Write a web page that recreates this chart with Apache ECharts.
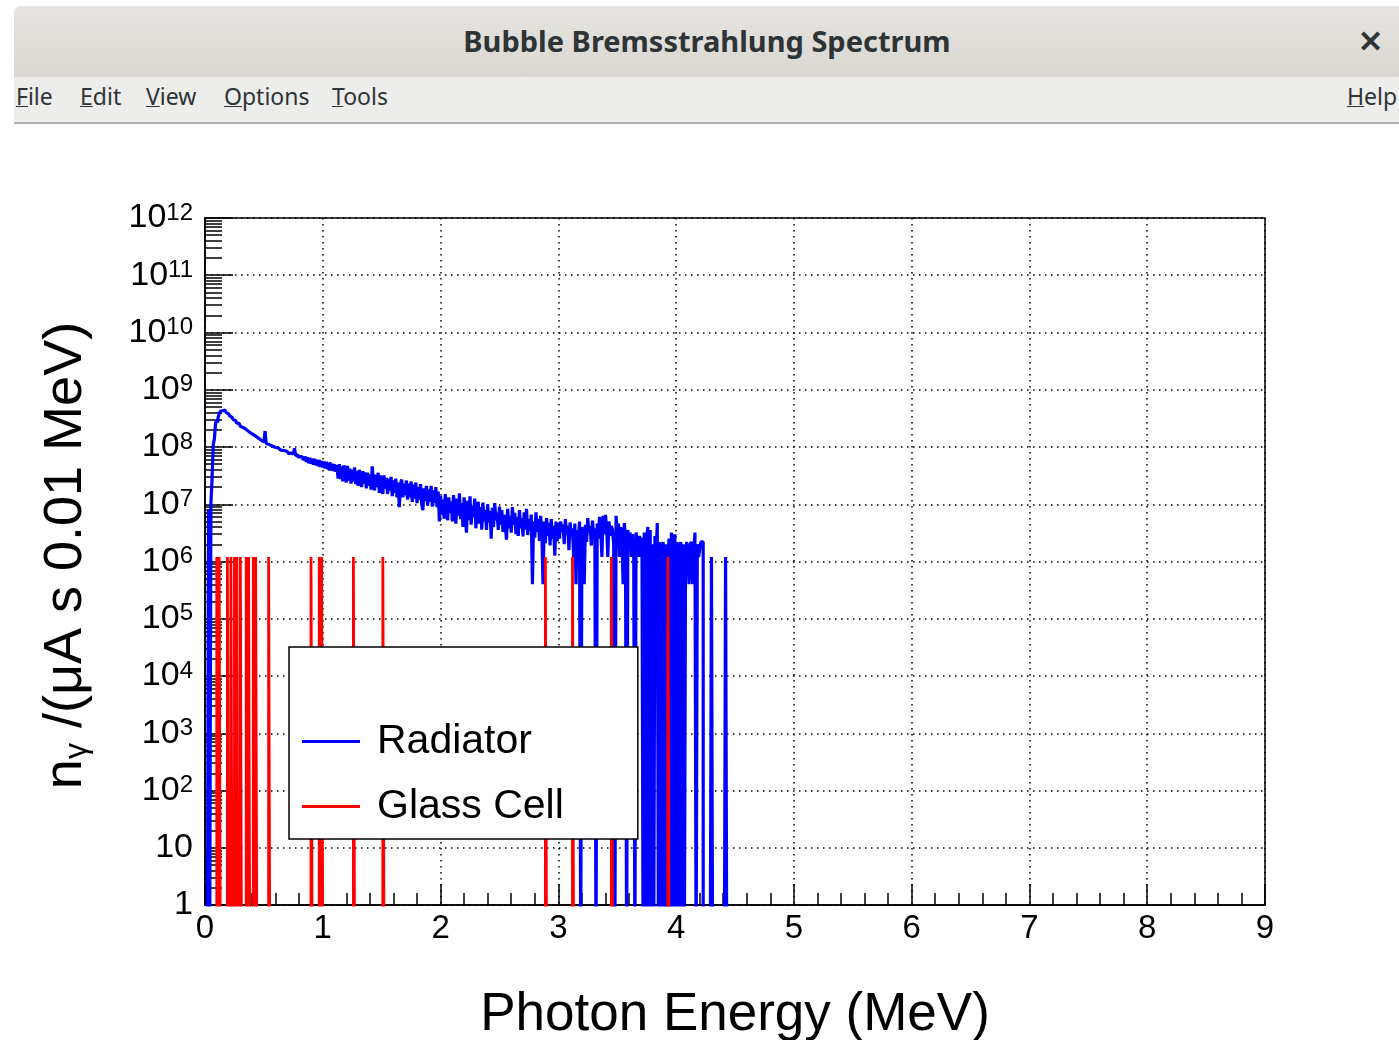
<!DOCTYPE html>
<html>
<head>
<meta charset="utf-8">
<title>Bubble Bremsstrahlung Spectrum</title>
<script src="https://cdn.jsdelivr.net/npm/echarts@6/dist/echarts.min.js"></script>
<style>
	html, body {
		margin: 0;
		padding: 0;
		width: 1399px;
		height: 1040px;
		overflow: hidden;
		background: #fff;
	}
	#chart {
		position: absolute;
		left: 0;
		top: 0;
		width: 1399px;
		height: 1040px;
	}
	.titlebar {
		position: absolute;
		left: 14px;
		top: 6px;
		width: 1400px;
		height: 71px;
		background: linear-gradient(#e6e4e0, #dad7d2);
		border-radius: 6px 0 0 0;
		font-family: "Noto Sans", sans-serif;
		z-index: 5;
	}
	.titlebar .caption {
		position: absolute;
		left: 0;
		width: 1386px;
		top: 15px;
		text-align: center;
		font-size: 29px;
		font-weight: bold;
		color: #2e3436;
	}
	.titlebar .close {
		position: absolute;
		left: 1344px;
		top: 14px;
		font-size: 30px;
		font-weight: bold;
		color: #2e3436;
	}
	.menubar {
		position: absolute;
		left: 14px;
		top: 77px;
		width: 1400px;
		height: 45px;
		background: #ededeb;
		border-bottom: 2px solid #b2b0ac;
		font-family: "Noto Sans", sans-serif;
		font-size: 23px;
		color: #2e3436;
		z-index: 5;
	}
	.menubar span {
		position: absolute;
		top: 3px;
	}
	.menubar u {
		text-decoration-thickness: 1px;
	}
</style>
</head>
<body>
<div class="titlebar">
	<div class="caption">Bubble Bremsstrahlung Spectrum</div>
	<div class="close">✕</div>
</div>
<div class="menubar">
	<span style="left:2px"><u>F</u>ile</span>
	<span style="left:66px"><u>E</u>dit</span>
	<span style="left:132px"><u>V</u>iew</span>
	<span style="left:210px"><u>O</u>ptions</span>
	<span style="left:318px"><u>T</u>ools</span>
	<span style="left:1333px"><u>H</u>elp</span>
</div>
<div id="chart"></div>
<script>
// histogram binning (MeV)
var binWidth = 0.01;

// Radiator: counts per 0.01 MeV bin, starting at 0 MeV (0 = empty bin)
var radiatorCounts = [
	0, 0, 0, 8e6, 0, 1.0e7, 2.8e7, 1.1e8, 1.4e8, 2.7e8,
	2.8e8, 3.2e8, 3.8e8, 4.2e8, 4.3e8, 4.5e8, 4.4e8, 4.2e8, 4.0e8, 3.8e8,
	3.7e8, 3.5e8, 3.3e8, 3.1e8, 3.0e8, 2.9e8, 2.8e8, 2.6e8, 2.6e8, 2.5e8,
	2.3e8, 2.2e8, 2.1e8, 2.1e8, 2.0e8, 1.95e8, 1.9e8, 1.8e8, 1.8e8, 1.7e8,
	1.66e8, 1.6e8, 1.6e8, 1.5e8, 1.5e8, 1.4e8, 1.4e8, 1.3e8, 1.26e8, 1.23e8,
	1.2e8, 1.9e8, 1.15e8, 1.12e8, 1.1e8, 1.07e8, 1.05e8, 1.02e8, 1.0e8, 9.8e7,
	9.5e7, 9.7e7, 9.1e7, 8.9e7, 9.2e7, 8.7e7, 8.4e7, 8.6e7, 8.1e7, 8.3e7,
	8.0e7, 7.6e7, 7.9e7, 7.3e7, 7.5e7, 7.1e7, 9.5e7, 7.0e7, 7.3e7, 6.6e7,
	6.8e7, 6.4e7, 6.7e7, 6.0e7, 6.3e7, 6.9e7, 5.5e7, 6.6e7, 5.2e7, 6.5e7,
	5.1e7, 6.3e7, 4.9e7, 6.2e7, 4.8e7, 6.0e7, 4.6e7, 5.9e7, 4.5e7, 5.7e7,
	4.4e7, 5.6e7, 4.2e7, 5.5e7, 4.3e7, 4.0e7, 5.4e7, 3.9e7, 5.1e7, 3.8e7,
	5.0e7, 3.7e7, 4.8e7, 2.8e7, 5.0e7, 2.75e7, 4.6e7, 2.5e7, 4.8e7, 3.2e7,
	2.4e7, 4.7e7, 2.6e7, 4.2e7, 2.3e7, 4.0e7, 2.5e7, 4.4e7, 2.24e7, 3.8e7,
	2.1e7, 4.0e7, 2.75e7, 2.0e7, 3.8e7, 2.3e7, 3.6e7, 1.9e7, 3.55e7, 2.1e7,
	3.3e7, 1.8e7, 4.6e7, 2.4e7, 1.74e7, 3.3e7, 2.0e7, 3.55e7, 1.58e7, 3.2e7,
	1.9e7, 1.51e7, 3.2e7, 1.86e7, 2.9e7, 1.51e7, 2.8e7, 1.74e7, 3.0e7, 1.38e7,
	2.6e7, 1.58e7, 2.8e7, 1.32e7, 2.4e7, 8.9e6, 2.3e7, 2.7e7, 1.32e7, 2.3e7,
	1.45e7, 2.6e7, 1.2e7, 2.3e7, 1.32e7, 2.5e7, 1.1e7, 2.2e7, 1.26e7, 2.4e7,
	1.05e7, 2.0e7, 1.2e7, 2.24e7, 1.0e7, 7.9e6, 1.9e7, 1.15e7, 2.1e7, 9.5e6,
	1.82e7, 1.1e7, 2.1e7, 9.1e6, 1.74e7, 1.05e7, 2.0e7, 8.9e6, 1.66e7, 5.0e6,
	1.41e7, 6.6e6, 1.2e7, 5.6e6, 1.51e7, 7.9e6, 5.25e6, 1.32e7, 7.1e6, 1.12e7,
	5.0e6, 1.45e7, 7.6e6, 4.6e6, 1.26e7, 6.3e6, 1.55e7, 5.5e6, 1.05e7, 4.0e6,
	1.32e7, 6.9e6, 3.2e6, 1.15e7, 5.25e6, 1.38e7, 4.4e6, 9.5e6, 6.0e6, 1.26e7,
	3.8e6, 8.3e6, 1.1e7, 4.6e6, 8.9e6, 3.6e6, 1.07e7, 5.0e6, 7.9e6, 3.55e6,
	1.0e7, 4.8e6, 7.6e6, 2.5e6, 8.7e6, 4.0e6, 1.05e7, 5.25e6, 7.2e6, 3.55e6,
	9.1e6, 4.4e6, 7.9e6, 3.3e6, 6.6e6, 4.2e6, 2.4e6, 8.3e6, 3.8e6, 6.3e6,
	3.2e6, 8.9e6, 4.4e6, 7.1e6, 3.0e6, 6.0e6, 2.8e6, 7.9e6, 3.8e6, 5.75e6,
	2.75e6, 7.2e6, 3.6e6, 8.3e6, 2.9e6, 5.5e6, 3.55e6, 6.6e6, 4.0e5, 5.0e6,
	2.6e6, 7.2e6, 3.3e6, 5.5e6, 2.3e6, 6.3e6, 3.2e6, 4.0e5, 5.0e6, 2.1e6,
	5.75e6, 2.8e6, 4.8e6, 1.9e6, 5.5e6, 2.5e6, 4.2e6, 1.26e6, 5.0e6, 2.24e6,
	4.8e6, 2.5e6, 5.0e6, 3.3e6, 4.4e6, 2.0e6, 5.5e6, 3.0e6, 4.2e6, 1.58e6,
	4.8e6, 2.8e6, 3.8e6, 1.2e6, 4.6e6, 4.0e5, 3.55e6, 2.4e6, 5.0e6, 0,
	4.0e6, 2.6e6, 4.0e5, 4.4e6, 2.2e6, 5.75e6, 3.2e6, 4.2e6, 1.9e6, 5.2e6,
	2.9e6, 3.8e6, 0, 4.6e6, 2.5e6, 6.0e6, 3.55e6, 1.2e6, 6.3e6, 3.0e6,
	6.5e6, 4.0e6, 1.2e6, 5.0e6, 2.8e6, 4.2e6, 3.55e6, 2.0e6, 0, 6.3e6,
	3.2e6, 4.6e6, 1.2e6, 4.0e6, 2.5e6, 4.0e5, 4.7e6, 2.8e6, 0, 3.55e6,
	2.0e6, 3.2e6, 1.2e6, 3.0e6, 1.58e6, 0, 3.2e6, 2.3e6, 1.2e6, 2.8e6,
	1.2e6, 2.6e6, 0, 3.2e6, 0, 2.5e6, 4.0e6, 0, 3.55e6, 0,
	2.0e6, 0, 2.8e6, 1.2e6, 4.7e6, 0, 2.2e6, 0, 1.58e6, 2.2e6,
	0, 2.0e6, 0, 1.2e6, 2.5e6, 0, 3.2e6, 2.0e6, 0, 3.0e6,
	0, 2.2e6, 0, 1.58e6, 2.2e6, 0, 2.0e6, 0, 1.2e6, 2.2e6,
	1.26e6, 4.0e5, 2.0e6, 2.2e6, 4.0e5, 1.58e6, 3.2e6, 0, 2.0e6, 1.2e6,
	1.58e6, 2.2e6, 2.2e6, 0, 0, 0, 0, 0, 0, 0,
	1.2e6, 0, 0, 0, 0, 0, 0, 0, 0, 0,
	0, 0, 1.2e6, 0, 0
];

// Glass Cell: only a few filled bins (low edge in MeV, content)
var glassEnergy = [0.10, 0.12, 0.19, 0.22, 0.25, 0.27, 0.30, 0.35, 0.37, 0.41, 0.43,
	0.54, 0.90, 0.97, 0.99, 1.26, 1.51, 2.89, 3.12, 3.45, 3.93];
var glassCounts = [1.2e6, 1.2e6, 1.2e6, 1.2e6, 1.2e6, 1.2e6, 1.2e6, 1.2e6, 1.2e6, 1.2e6, 1.2e6,
	1.2e6, 1.2e6, 1.2e6, 1.2e6, 1.2e6, 1.2e6, 1.2e6, 1.2e6, 1.2e6, 1.2e6];

var seriesNames = ['Radiator', 'Glass Cell'];
var seriesColors = ['#0000ff', '#ff0000'];

// axis ticks
var yMajorTicks = [1, 1e1, 1e2, 1e3, 1e4, 1e5, 1e6, 1e7, 1e8, 1e9, 1e10, 1e11, 1e12];
var yMinorTicks = [];
for (var n = 0; n < 12; n++) {
	for (var k = 2; k <= 9; k++) {
		yMinorTicks.push(k * Math.pow(10, n));
	}
}

var FLOOR = 0.1; // empty bins are drawn below the frame (log axis starts at 1), clipped like ROOT does
var FONT = "'Liberation Sans', Arial, sans-serif";

// step outline of a histogram with contiguous bins
function outlineFromBins(counts){
	var pts = [[0, FLOOR]];
	for (var i = 0; i < counts.length; i++) {
		var lo = +(i * binWidth).toFixed(2);
		var hi = +((i + 1) * binWidth).toFixed(2);
		var v = counts[i] > 0 ? counts[i] : FLOOR;
		pts.push([lo, v]);
		pts.push([hi, v]);
	}
	pts.push([+(counts.length * binWidth).toFixed(2), FLOOR]);
	return pts;
}

// step outline of isolated filled bins
function outlineFromHits(edges, counts){
	var pts = [];
	for (var i = 0; i < edges.length; i++) {
		var lo = edges[i];
		var hi = +(edges[i] + binWidth).toFixed(2);
		pts.push([lo, FLOOR], [lo, counts[i]], [hi, counts[i]], [hi, FLOOR]);
	}
	return pts;
}

function yLabel(value){
	var e = Math.round(Math.log10(value));
	if (e === 0) return '1';
	if (e === 1) return '10';
	return '{b|10}{s|' + e + '}';
}

var chartInstance = echarts.init(document.getElementById('chart'), null, {renderer: 'canvas'});

var option = {
	animation: false,
	backgroundColor: '#fff',
	textStyle: {fontFamily: FONT},
	grid: {
		left: 205,
		right: 134,
		top: 218,
		bottom: 135,
		show: true,
		borderColor: '#000',
		borderWidth: 1.5,
		backgroundColor: 'transparent',
		containLabel: false,
		outerBoundsMode: 'none'
	},
	legend: {
		data: seriesNames,
		orient: 'vertical',
		left: 289,
		top: 647,
		icon: 'rect',
		itemWidth: 58,
		itemHeight: 3,
		itemGap: 24,
		padding: [74, 74, 12, 13],
		backgroundColor: '#fff',
		borderColor: '#000',
		borderWidth: 1.5,
		textStyle: {
			fontFamily: FONT,
			fontSize: 41,
			lineHeight: 40,
			color: '#000',
			padding: [0, 0, 0, 12]
		}
	},
	xAxis: {
		type: 'value',
		min: 0,
		max: 9,
		interval: 1,
		name: 'Photon Energy (MeV)',
		nameLocation: 'middle',
		nameGap: 84,
		nameTextStyle: {fontFamily: FONT, fontSize: 53, color: '#000'},
		axisLine: {lineStyle: {color: '#000', width: 1.5}},
		axisTick: {inside: true, length: 21, lineStyle: {color: '#000', width: 1.5}},
		minorTick: {show: true, splitNumber: 5, length: 12, lineStyle: {color: '#000', width: 1.5}},
		axisLabel: {fontFamily: FONT, fontSize: 33, color: '#000', margin: 7},
		splitLine: {show: true, lineStyle: {color: '#000', width: 1.5, type: [1.5, 4.5]}}
	},
	yAxis: [
		{
			type: 'log',
			logBase: 10,
			min: 1,
			max: 1e12,
			name: '{n|n}{g|γ}{r| /(μA s 0.01 MeV)}',
			nameLocation: 'middle',
			nameRotate: 90,
			nameGap: 112,
			nameTextStyle: {
				fontFamily: FONT,
				fontSize: 54,
				color: '#000',
				padding: [0, 0, 0, 12],
				rich: {
					n: {fontFamily: FONT, fontSize: 54, lineHeight: 60, verticalAlign: 'bottom', color: '#000'},
					g: {fontFamily: FONT, fontSize: 32, lineHeight: 60, verticalAlign: 'bottom', color: '#000'},
					r: {fontFamily: FONT, fontSize: 54, lineHeight: 60, verticalAlign: 'bottom', color: '#000'}
				}
			},
			axisLine: {lineStyle: {color: '#000', width: 1.5}},
			axisTick: {inside: true, length: 28, customValues: yMajorTicks, lineStyle: {color: '#000', width: 1.5}},
			axisLabel: {
				customValues: yMajorTicks,
				formatter: yLabel,
				fontFamily: FONT,
				fontSize: 34,
				color: '#000',
				margin: 12,
				rich: {
					b: {fontFamily: FONT, fontSize: 34, lineHeight: 34, verticalAlign: 'bottom', color: '#000'},
					s: {fontFamily: FONT, fontSize: 24, lineHeight: 24, verticalAlign: 'top', padding: [0, 0, 18, 0], color: '#000'}
				}
			},
			splitLine: {show: true, lineStyle: {color: '#000', width: 1.5, type: [1.5, 4.5]}}
		},
		{
			// minor log ticks (2..9 x 10^n), ROOT style comb
			type: 'log',
			logBase: 10,
			min: 1,
			max: 1e12,
			position: 'left',
			axisLine: {show: false},
			axisTick: {inside: true, length: 17, customValues: yMinorTicks, lineStyle: {color: '#000', width: 1.5}},
			axisLabel: {show: false},
			splitLine: {show: false}
		}
	],
	series: [
		{
			name: seriesNames[0],
			type: 'line',
			yAxisIndex: 0,
			data: outlineFromBins(radiatorCounts),
			symbol: 'none',
			showSymbol: false,
			clip: true,
			color: seriesColors[0],
			lineStyle: {color: seriesColors[0], width: 3.2}
		},
		{
			name: seriesNames[1],
			type: 'line',
			yAxisIndex: 0,
			data: outlineFromHits(glassEnergy, glassCounts),
			symbol: 'none',
			showSymbol: false,
			clip: true,
			color: seriesColors[1],
			lineStyle: {color: seriesColors[1], width: 2.8}
		}
	]
};

chartInstance.setOption(option);
</script>
</body>
</html>
